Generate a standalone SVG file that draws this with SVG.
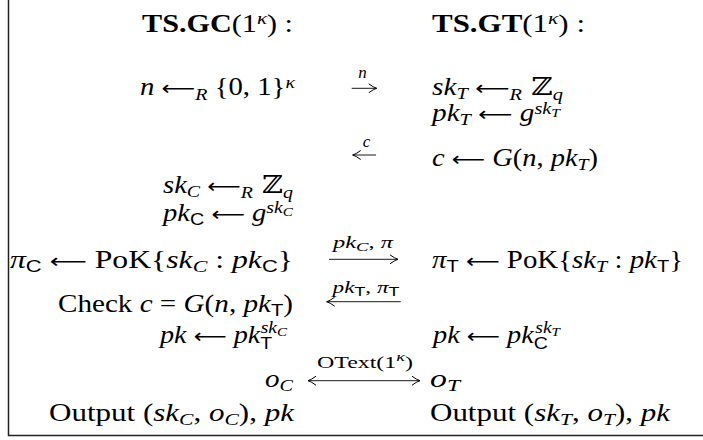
<svg xmlns="http://www.w3.org/2000/svg" width="703" height="440" viewBox="0 0 703 440">
<style>
.m{font-family:"Liberation Serif","DejaVu Serif",serif;font-size:24.5px;fill:#000}
.i{font-style:italic}
.b{font-weight:bold}
.sf{font-family:"Liberation Sans","DejaVu Sans",sans-serif;font-style:normal}
.s{font-size:17px}
.ss{font-size:13px}
.bb{font-family:"DejaVu Serif","DejaVu Sans",serif}
.a{font-family:"DejaVu Sans",sans-serif;font-size:20px;font-style:normal}
.L{text-anchor:end}
.C{text-anchor:middle}
.lb{font-size:17px}
.ar{stroke:#000;stroke-width:0.9;fill:none}
</style>
<defs>
<marker id="ah" viewBox="-9 -5 10 10" refX="0" refY="0" markerWidth="10" markerHeight="10" markerUnits="userSpaceOnUse" orient="auto-start-reverse">
<path d="M-8 -4.5 Q-3 -0.8 0 0 Q-3 0.8 -8 4.5" fill="none" stroke="#000" stroke-width="1"/>
</marker>
</defs>
<rect width="703" height="440" fill="#fff"/>
<path d="M8.5 0 V435.5 H703" fill="none" stroke="#222" stroke-width="1.5"/>

<g id="client">
<text class="m L" x="293" y="31.5" textLength="151" lengthAdjust="spacingAndGlyphs"><tspan class="b">TS.GC</tspan>(1<tspan class="s i" dy="-8">κ</tspan><tspan dy="8">) :</tspan></text>
<text class="m L" x="295" y="95" textLength="155" lengthAdjust="spacingAndGlyphs"><tspan class="i">n</tspan> <tspan class="a">⟵</tspan><tspan class="s i" dy="5">R</tspan><tspan dy="-5"> {0, 1}</tspan><tspan class="s i" dy="-7">κ</tspan></text>
<text class="m L" x="293" y="193" textLength="130" lengthAdjust="spacingAndGlyphs"><tspan class="i">sk</tspan><tspan class="s i" dy="4">C</tspan><tspan dy="-4"> </tspan><tspan class="a">⟵</tspan><tspan class="s i" dy="5">R</tspan><tspan class="bb" dy="-5"> ℤ</tspan><tspan class="s i" dy="5">q</tspan></text>
<text class="m L" x="293" y="221" textLength="130" lengthAdjust="spacingAndGlyphs"><tspan class="i">pk</tspan><tspan class="s sf" dy="4">C</tspan><tspan dy="-4"> </tspan><tspan class="a">⟵</tspan> <tspan class="i">g</tspan><tspan class="s i" dy="-8">sk</tspan><tspan class="ss i" dy="3">C</tspan></text>
<text class="m L" x="293" y="268" textLength="283" lengthAdjust="spacingAndGlyphs"><tspan class="i">π</tspan><tspan class="s sf" dy="4">C</tspan><tspan dy="-4"> </tspan><tspan class="a">⟵</tspan> PoK{<tspan class="i">sk</tspan><tspan class="s i" dy="4">C</tspan><tspan dy="-4"> : </tspan><tspan class="i">pk</tspan><tspan class="s sf" dy="4">C</tspan><tspan dy="-4">}</tspan></text>
<text class="m L" x="293" y="311.5" textLength="235" lengthAdjust="spacingAndGlyphs">Check <tspan class="i">c</tspan> = <tspan class="i">G</tspan>(<tspan class="i">n</tspan>, <tspan class="i">pk</tspan><tspan class="s sf" dy="4">T</tspan><tspan dy="-4">)</tspan></text>
<text class="m L" x="287" y="343" textLength="127" lengthAdjust="spacingAndGlyphs"><tspan class="i">pk</tspan> <tspan class="a">⟵</tspan> <tspan class="i">pk</tspan><tspan class="s sf" dy="6">T</tspan><tspan class="s i" dx="-10" dy="-16">sk</tspan><tspan class="ss i" dy="3">C</tspan></text>
<text class="m L" x="293" y="386.7" textLength="28" lengthAdjust="spacingAndGlyphs"><tspan class="i">o</tspan><tspan class="s i" dy="4">C</tspan></text>
<text class="m L" x="294" y="420.7" textLength="245" lengthAdjust="spacingAndGlyphs">Output (<tspan class="i">sk</tspan><tspan class="s i" dy="4">C</tspan><tspan dy="-4">, </tspan><tspan class="i">o</tspan><tspan class="s i" dy="4">C</tspan><tspan dy="-4">), </tspan><tspan class="i">pk</tspan></text>
</g>

<g id="server">
<text class="m" x="432" y="31.5" textLength="153" lengthAdjust="spacingAndGlyphs"><tspan class="b">TS.GT</tspan>(1<tspan class="s i" dy="-8">κ</tspan><tspan dy="8">) :</tspan></text>
<text class="m" x="432" y="95" textLength="131" lengthAdjust="spacingAndGlyphs"><tspan class="i">sk</tspan><tspan class="s i" dy="4">T</tspan><tspan dy="-4"> </tspan><tspan class="a">⟵</tspan><tspan class="s i" dy="5">R</tspan><tspan class="bb" dy="-5"> ℤ</tspan><tspan class="s i" dy="5">q</tspan></text>
<text class="m" x="432" y="121" textLength="128" lengthAdjust="spacingAndGlyphs"><tspan class="i">pk</tspan><tspan class="s i" dy="4">T</tspan><tspan dy="-4"> </tspan><tspan class="a">⟵</tspan> <tspan class="i">g</tspan><tspan class="s i" dy="-7">sk</tspan><tspan class="ss i" dy="3">T</tspan></text>
<text class="m" x="432" y="166" textLength="166" lengthAdjust="spacingAndGlyphs"><tspan class="i">c</tspan> <tspan class="a">⟵</tspan> <tspan class="i">G</tspan>(<tspan class="i">n</tspan>, <tspan class="i">pk</tspan><tspan class="s i" dy="4">T</tspan><tspan dy="-4">)</tspan></text>
<text class="m" x="432" y="268" textLength="251" lengthAdjust="spacingAndGlyphs"><tspan class="i">π</tspan><tspan class="s sf" dy="4">T</tspan><tspan dy="-4"> </tspan><tspan class="a">⟵</tspan> PoK{<tspan class="i">sk</tspan><tspan class="s i" dy="4">T</tspan><tspan dy="-4"> : </tspan><tspan class="i">pk</tspan><tspan class="s sf" dy="4">T</tspan><tspan dy="-4">}</tspan></text>
<text class="m" x="433" y="343" textLength="127" lengthAdjust="spacingAndGlyphs"><tspan class="i">pk</tspan> <tspan class="a">⟵</tspan> <tspan class="i">pk</tspan><tspan class="s sf" dy="6">C</tspan><tspan class="s i" dx="-11" dy="-16">sk</tspan><tspan class="ss i" dy="3">T</tspan></text>
<text class="m" x="430" y="386.7" textLength="30" lengthAdjust="spacingAndGlyphs"><tspan class="i">o</tspan><tspan class="s i" dy="4">T</tspan></text>
<text class="m" x="430" y="420.7" textLength="240" lengthAdjust="spacingAndGlyphs">Output (<tspan class="i">sk</tspan><tspan class="s i" dy="4">T</tspan><tspan dy="-4">, </tspan><tspan class="i">o</tspan><tspan class="s i" dy="4">T</tspan><tspan dy="-4">), </tspan><tspan class="i">pk</tspan></text>
</g>

<g id="connectors">
<line class="ar" x1="351.7" y1="88.3" x2="376.7" y2="88.3" marker-end="url(#ah)"/>
<text class="m C lb i" x="362.5" y="78">n</text>
<line class="ar" x1="376" y1="155" x2="352.7" y2="155" marker-end="url(#ah)"/>
<text class="m C lb i" x="366.5" y="146.7">c</text>
<line class="ar" x1="329" y1="259.3" x2="398" y2="259.3" marker-end="url(#ah)"/>
<text class="m C lb" x="363" y="248.3" textLength="60" lengthAdjust="spacingAndGlyphs"><tspan class="i">pk</tspan><tspan class="ss i" dy="3">C</tspan><tspan dy="-3">, </tspan><tspan class="i">π</tspan></text>
<line class="ar" x1="400.7" y1="301.7" x2="326.7" y2="301.7" marker-end="url(#ah)"/>
<text class="m C lb" x="366" y="293.3" textLength="67" lengthAdjust="spacingAndGlyphs"><tspan class="i">pk</tspan><tspan class="ss sf" dy="3">T</tspan><tspan dy="-3">, </tspan><tspan class="i">π</tspan><tspan class="ss sf" dy="3">T</tspan></text>
<line class="ar" x1="308" y1="380.7" x2="420" y2="380.7" marker-start="url(#ah)" marker-end="url(#ah)"/>
<text class="m C lb" x="365" y="368.3" textLength="96" lengthAdjust="spacingAndGlyphs">OText(1<tspan class="ss i" dy="-7">κ</tspan><tspan dy="7">)</tspan></text>
</g>
</svg>
